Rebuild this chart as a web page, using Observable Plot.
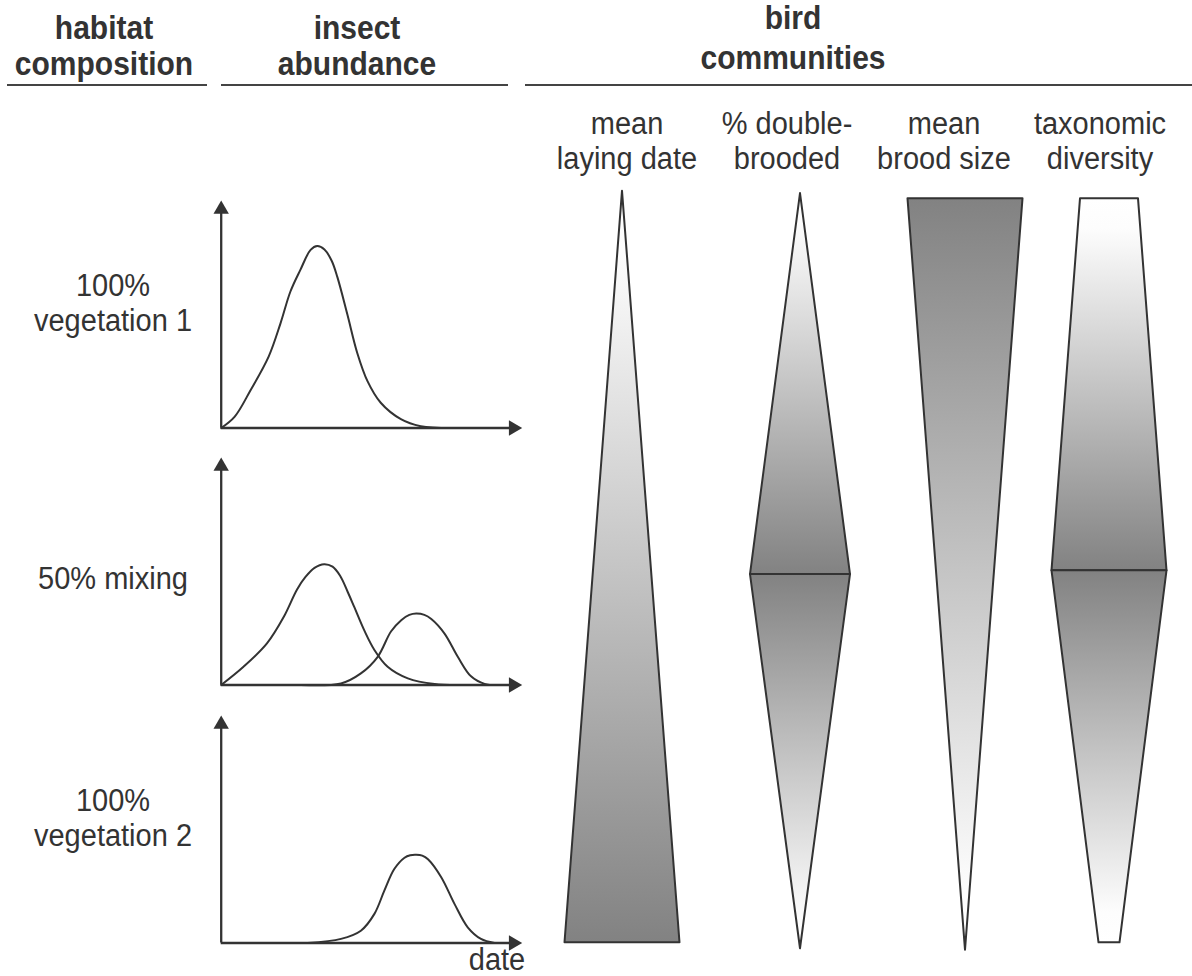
<!DOCTYPE html>
<html>
<head>
<meta charset="utf-8">
<script src="https://cdn.jsdelivr.net/npm/d3@7"></script>
<script src="https://cdn.jsdelivr.net/npm/@observablehq/plot@0.6"></script>
<style>
html, body { margin: 0; padding: 0; background: #fff; }
#fig { position: relative; width: 1192px; height: 976px; overflow: hidden;
       font-family: "Liberation Sans", Arial, Helvetica, sans-serif; color: #333; }
.lbl { position: absolute; white-space: nowrap; line-height: 1; }
.rule { position: absolute; height: 2px; background: #444; }
.panel { position: absolute; }
</style>
</head>
<body>
<div id="fig"></div>
<script>
// ---------------- DATA ----------------
const headerLabels = [["habitat", "composition"], ["insect", "abundance"], ["bird", "communities"]];
const habitatLabels = [["100%", "vegetation 1"], ["50% mixing"], ["100%", "vegetation 2"]];
const metricLabels = [["mean", "laying date"], ["% double-", "brooded"], ["mean", "brood size"], ["taxonomic", "diversity"]];
const dateLabel = "date";

// insect abundance curves (date 0–100 along the axis, abundance 0–100 up the axis)
const veg1Date  = [0, 4.5, 9.7, 15.8, 19.7, 23.0, 26.3, 29.7, 31.9, 34.3, 36.7, 38.6, 41.9, 45.2, 48.6, 53.0, 59.7, 66.3, 76.3];
const veg1Abund = [0, 5.0, 16.5, 31.5, 46.0, 60.0, 69.5, 78.3, 80.0, 78.5, 73.5, 66.3, 50.0, 33.0, 20.6, 11.1, 3.9, 0.8, 0];

const mixADate  = [0, 7.4, 15.2, 20.8, 25.2, 28.0, 31.0, 34.2, 37.0, 39.5, 42.0, 44.2, 47.5, 50.9, 55.3, 62.0, 70.9, 80.0];
const mixAAbund = [0, 8.0, 18.3, 30.0, 42.0, 47.5, 51.5, 53.1, 52.0, 48.0, 41.0, 34.3, 24.1, 15.4, 8.0, 2.9, 0.4, 0];
const mixBDate  = [26.4, 39.8, 46.4, 52.0, 56.4, 59.8, 62.5, 64.8, 67.5, 69.8, 74.2, 78.6, 83.0, 87.5, 93.2];
const mixBAbund = [0, 0.7, 5.1, 12.4, 23.5, 28.5, 30.8, 31.4, 30.8, 29.0, 22.6, 12.4, 3.8, 0.5, 0];

const veg2Date  = [28.7, 39.8, 46.4, 50.9, 54.2, 57.5, 60.9, 62.8, 64.8, 66.8, 68.7, 73.1, 77.5, 81.9, 86.3, 90.8];
const veg2Abund = [0, 1.8, 5.4, 12.8, 23.0, 32.5, 37.5, 38.6, 38.8, 38.4, 36.8, 28.9, 17.2, 6.9, 1.8, 0];

// bird response shapes: width along the habitat gradient (0 = 100% veg 1, 0.5 = mixing, 1 = 100% veg 2)
const layingLevel = [-0.010, 1.000];
const layingWidth = [0, 115];
const doubleUpperLevel = [-0.007, 0.505];
const doubleUpperWidth = [0, 100];
const doubleLowerLevel = [0.505, 1.008];
const doubleLowerWidth = [100, 0];
const broodLevel = [0.000, 1.010];
const broodWidth = [115, 0];
const diversityUpperLevel = [0.000, 0.500];
const diversityUpperWidth = [58, 115];
const diversityLowerLevel = [0.500, 1.000];
const diversityLowerWidth = [115, 21];

// ---------------- LAYOUT / STYLE ----------------
const INK = "#333";
const TEXT_STRETCH = 1.1;
const fig = document.getElementById("fig");

function addLabel(lines, cx, baselines, size, bold) {
  lines.forEach((t, i) => {
    const d = document.createElement("div");
    d.className = "lbl";
    d.textContent = t;
    const asc = 0.8465 * size;
    d.style.left = cx + "px";
    d.style.top = (baselines[i] - asc) + "px";
    d.style.fontSize = size + "px";
    d.style.fontWeight = bold ? "bold" : "normal";
    d.style.transformOrigin = `0 ${asc}px`;
    d.style.transform = `translateX(-50%) scaleY(${TEXT_STRETCH})`;
    fig.appendChild(d);
  });
}

// headers
const headerX = [104, 357, 793];
const headerBase = [[39.8, 75.6], [39.8, 75.6], [29.8, 69.3]];
headerLabels.forEach((l, i) => addLabel(l, headerX[i], headerBase[i], 30, true));
const underlines = [[7, 207], [221, 508], [525, 1192]];
underlines.forEach(([a, b]) => {
  const d = document.createElement("div");
  d.className = "rule";
  d.style.left = a + "px"; d.style.width = (b - a) + "px"; d.style.top = "84px";
  fig.appendChild(d);
});

// metric sub-headers
const metricX = [627, 787, 944, 1100];
metricLabels.forEach((l, i) => addLabel(l, metricX[i], [134.4, 169.4], 29, false));

// habitat row labels
const rowBase = [[296.6, 331.4], [589.4], [811.6, 846.4]];
habitatLabels.forEach((l, i) => addLabel(l, 113, rowBase[i], 29, false));
addLabel([dateLabel], 497, [971], 29, false);

// ---------------- INSECT PANELS ----------------
function toPoints(dates, abunds, series) {
  return dates.map((d, i) => ({date: d, abund: abunds[i], series}));
}
const panels = [
  [toPoints(veg1Date, veg1Abund, "veg1")],
  [toPoints(mixADate, mixAAbund, "veg1"), toPoints(mixBDate, mixBAbund, "veg2")],
  [toPoints(veg2Date, veg2Abund, "veg2")]
];
const panelTop = [190, 447, 705];
const headLen = 8.86, headR = 5.7;

panels.forEach((curves, i) => {
  const pts = curves.flat();
  const svg = Plot.plot({
    width: 340, height: 250,
    marginLeft: 20.7, marginRight: 18.3, marginTop: 10, marginBottom: 12.5,
    x: {domain: [0, 100], axis: null},
    y: {domain: [0, 100], axis: null},
    style: "overflow:visible;background:transparent;",
    marks: [
      Plot.line(pts, {x: "date", y: "abund", z: "series", curve: "catmull-rom",
        stroke: INK, strokeWidth: 2}),
      Plot.ruleY([0], {x1: 0, x2: 96, stroke: INK, strokeWidth: 2.3}),
      Plot.ruleX([0], {y1: 0, y2: 96, stroke: INK, strokeWidth: 2.3}),
      Plot.dot([{date: 100, abund: 0}], {x: "date", y: "abund", symbol: "triangle", r: headR,
        fill: INK, stroke: "none", rotate: 90, dx: -headLen}),
      Plot.dot([{date: 0, abund: 100}], {x: "date", y: "abund", symbol: "triangle", r: headR,
        fill: INK, stroke: "none", dy: headLen})
    ]
  });
  svg.classList.add("panel");
  svg.style.left = "200px";
  svg.style.top = panelTop[i] + "px";
  fig.appendChild(svg);
});

// ---------------- BIRD RESPONSE SHAPES ----------------
function seg(levels, widths, shade, name) {
  return levels.map((l, i) => ({level: l, width: widths[i], shade, seg: name}));
}
const birdShapes = [
  [seg(layingLevel, layingWidth, "down", "a")],
  [seg(doubleUpperLevel, doubleUpperWidth, "down", "a"), seg(doubleLowerLevel, doubleLowerWidth, "up", "b")],
  [seg(broodLevel, broodWidth, "up", "a")],
  [seg(diversityUpperLevel, diversityUpperWidth, "down", "a"), seg(diversityLowerLevel, diversityLowerWidth, "up", "b")]
];
const birdCenter = [621.8, 800.3, 965.4, 1108.7];
const birdSvgTop = 150;

birdShapes.forEach((segments, i) => {
  const marks = segments.map(s => Plot.areaX(s, {
    y: "level",
    x1: d => -d.width / 2,
    x2: d => d.width / 2,
    fill: `url(#shade-${s[0].shade}-${i})`,
    stroke: INK, strokeWidth: 2
  }));
  const svg = Plot.plot({
    width: 200, height: 830, margin: 0,
    x: {domain: [-100, 100], range: [0, 200], axis: null},
    y: {domain: [0, 1], range: [198.3 - birdSvgTop, 942.3 - birdSvgTop], axis: null},
    style: "overflow:visible;background:transparent;",
    marks
  });
  const ns = "http://www.w3.org/2000/svg";
  const defs = document.createElementNS(ns, "defs");
  defs.innerHTML =
    `<linearGradient id="shade-down-${i}" x1="0" y1="0" x2="0" y2="1">
       <stop offset="0" stop-color="#ffffff"/>
       <stop offset="0.08" stop-color="#fdfdfd"/>
       <stop offset="1" stop-color="#828282"/>
     </linearGradient>
     <linearGradient id="shade-up-${i}" x1="0" y1="0" x2="0" y2="1">
       <stop offset="0" stop-color="#828282"/>
       <stop offset="0.92" stop-color="#fdfdfd"/>
       <stop offset="1" stop-color="#ffffff"/>
     </linearGradient>`;
  svg.insertBefore(defs, svg.firstChild);
  svg.classList.add("panel");
  svg.style.left = (birdCenter[i] - 100) + "px";
  svg.style.top = birdSvgTop + "px";
  fig.appendChild(svg);
});
</script>
</body>
</html>
